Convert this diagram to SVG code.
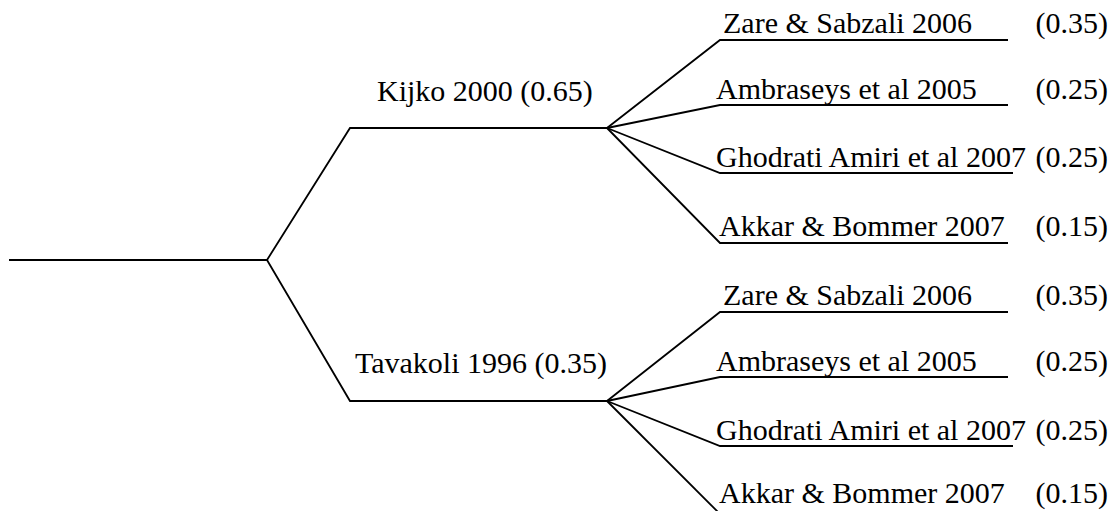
<svg xmlns="http://www.w3.org/2000/svg" width="1117" height="511" viewBox="0 0 1117 511">
<style>
.ln{fill:none;stroke:#000;stroke-width:1.8;stroke-linejoin:miter}
.t{font-family:"Liberation Serif","Times New Roman",serif;font-size:30px;fill:#000}
.w{font-family:"Liberation Serif","Times New Roman",serif;font-size:30px;fill:#000;text-anchor:end}
</style>
<rect width="1117" height="511" fill="#fff"/>
<g id="connectors">
<path class="ln" d="M9,260 H267"/>
<path class="ln" d="M267,260 L350,128 H607"/>
<path class="ln" d="M267,260 L350,401 H607"/>
<path class="ln" d="M607,128 L720,40 H1008"/>
<path class="ln" d="M607,128 L720,105 H1008"/>
<path class="ln" d="M607,128 L720,173 H1013"/>
<path class="ln" d="M607,128 L720,243 H1008"/>
<path class="ln" d="M607,401 L720,312 H1008"/>
<path class="ln" d="M607,401 L720,377 H1008"/>
<path class="ln" d="M607,401 L720,446 H1013"/>
<path class="ln" d="M607,401 L719,513"/>
</g>
<g id="kijko"><text class="t" x="377" y="101">Kijko 2000 (0.65)</text></g>
<g id="tavakoli"><text class="t" x="355" y="373">Tavakoli 1996 (0.35)</text></g>
<g id="k-zare"><text class="t" x="723" y="33">Zare &amp; Sabzali 2006</text><text class="w" x="1108" y="33">(0.35)</text></g>
<g id="k-ambraseys"><text class="t" x="716" y="99">Ambraseys et al 2005</text><text class="w" x="1108" y="99">(0.25)</text></g>
<g id="k-ghodrati"><text class="t" x="716" y="167">Ghodrati Amiri et al 2007</text><text class="w" x="1108" y="167">(0.25)</text></g>
<g id="k-akkar"><text class="t" x="719" y="236">Akkar &amp; Bommer 2007</text><text class="w" x="1108" y="236">(0.15)</text></g>
<g id="t-zare"><text class="t" x="723" y="305">Zare &amp; Sabzali 2006</text><text class="w" x="1108" y="305">(0.35)</text></g>
<g id="t-ambraseys"><text class="t" x="716" y="371">Ambraseys et al 2005</text><text class="w" x="1108" y="371">(0.25)</text></g>
<g id="t-ghodrati"><text class="t" x="716" y="440">Ghodrati Amiri et al 2007</text><text class="w" x="1108" y="440">(0.25)</text></g>
<g id="t-akkar"><text class="t" x="719" y="503">Akkar &amp; Bommer 2007</text><text class="w" x="1108" y="503">(0.15)</text></g>
</svg>
